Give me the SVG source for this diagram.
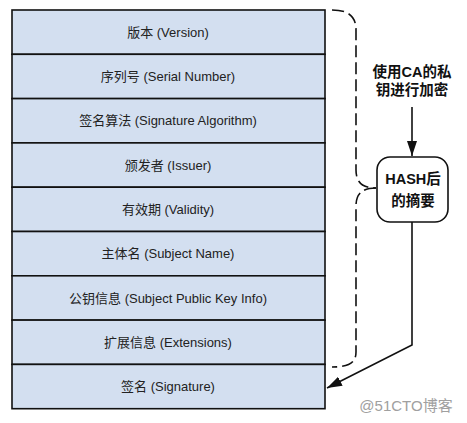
<svg xmlns="http://www.w3.org/2000/svg" width="467" height="423" viewBox="0 0 467 423">
<style>
.row rect{fill:#D3DFF0;stroke:#111;stroke-width:1.6}
.row text{font-family:"Liberation Sans","Noto Sans CJK SC",sans-serif;font-size:13px;fill:#222;text-anchor:middle;dominant-baseline:central}
.bold{font-family:"Liberation Sans","Noto Sans CJK SC",sans-serif;font-size:14.5px;font-weight:bold;fill:#111;text-anchor:middle}
.wm{font-family:"Liberation Sans","Noto Sans CJK SC",sans-serif;font-size:15px;fill:#a0a0a0;text-anchor:middle}
.line{fill:none;stroke:#111;stroke-width:1.6}
.dash{fill:none;stroke:#111;stroke-width:1.6;stroke-dasharray:12 5}
</style>
<defs>
<marker id="arr" viewBox="0 0 15 10" refX="15" refY="5" markerWidth="15" markerHeight="10" markerUnits="userSpaceOnUse" orient="auto">
<path d="M0,0 L15,5 L0,10 Z" fill="#111"/>
</marker>
</defs>
<g id="row-version" class="row"><rect x="12" y="10" width="313" height="44.3"/><text x="168" y="32.2">版本 (Version)</text></g>
<g id="row-serial" class="row"><rect x="12" y="54.3" width="313" height="44.3"/><text x="168" y="76.5">序列号 (Serial Number)</text></g>
<g id="row-sigalg" class="row"><rect x="12" y="98.6" width="313" height="44.3"/><text x="168" y="120.8">签名算法 (Signature Algorithm)</text></g>
<g id="row-issuer" class="row"><rect x="12" y="142.9" width="313" height="44.3"/><text x="168" y="165.1">颁发者 (Issuer)</text></g>
<g id="row-validity" class="row"><rect x="12" y="187.2" width="313" height="44.3"/><text x="168" y="209.4">有效期 (Validity)</text></g>
<g id="row-subject" class="row"><rect x="12" y="231.5" width="313" height="44.3"/><text x="168" y="253.7">主体名 (Subject Name)</text></g>
<g id="row-pubkey" class="row"><rect x="12" y="275.8" width="313" height="44.3"/><text x="168" y="298">公钥信息 (Subject Public Key Info)</text></g>
<g id="row-ext" class="row"><rect x="12" y="320.1" width="313" height="44.3"/><text x="168" y="342.3">扩展信息 (Extensions)</text></g>
<g id="row-signature" class="row"><rect x="12" y="364.4" width="313" height="44.3"/><text x="168" y="386.6">签名 (Signature)</text></g>
<g id="label-encrypt">
<text class="bold" x="412" y="77">使用CA的私</text>
<text class="bold" x="412" y="95">钥进行加密</text>
</g>
<g id="node-hash">
<rect x="377" y="157" width="71" height="65" rx="13" fill="#fff" stroke="#111" stroke-width="1.6"/>
<text class="bold" x="413" y="184">HASH后</text>
<text class="bold" x="413" y="206">的摘要</text>
</g>
<g id="connectors">
<path class="dash" d="M332,10 C348,10 356,16 356,30 L356,170 C356,182 362,188 376,188"/>
<path class="dash" d="M376,188 C362,188 356,194 356,206 L356,352 C356,362 350,367 332,367"/>
<path class="line" d="M412,107 L412,156" marker-end="url(#arr)"/>
<path class="line" d="M412,222 L412,345 L327,388" marker-end="url(#arr)"/>
</g>
<text class="wm" x="406" y="411">@51CTO博客</text>
</svg>
